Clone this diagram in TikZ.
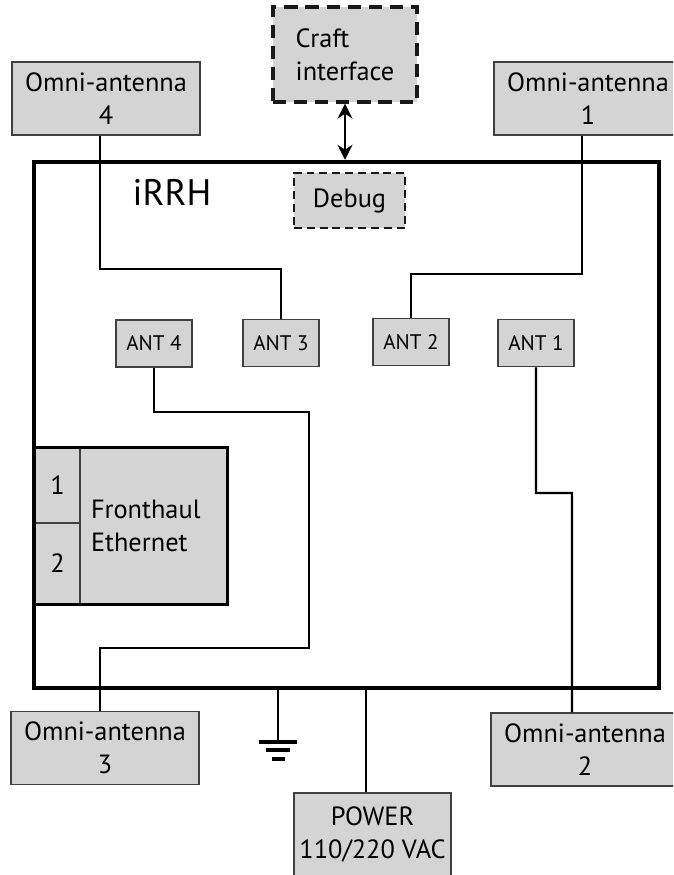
\documentclass[tikz,border=0pt]{standalone}
\usepackage{fontspec}
\setmainfont{PT Sans}
\usetikzlibrary{arrows.meta}
\definecolor{boxgray}{RGB}{212,212,212}

\begin{document}
\begin{tikzpicture}[x=0.02cm, y=-0.02cm,
    box/.style={draw=black!75, line width=0.9pt, fill=boxgray, align=center,
                inner sep=0pt, font=\fontsize{15}{19}\selectfont},
    omni/.style={box, minimum width=3.76cm, minimum height=1.46cm},
    antport/.style={box, minimum width=1.52cm, minimum height=0.94cm,
                    font=\fontsize{12}{14}\selectfont},
    dashbox/.style={box, draw=black!90, dash pattern=on 4.5pt off 2.8pt},
    wire/.style={line width=1.3pt},
    link/.style={{Stealth[length=3mm,width=3mm,inset=1mm]}-{Stealth[length=3mm,width=3mm,inset=1mm]}, line width=1.3pt}]
  \useasboundingbox (0,0) rectangle (673,875);
  \clip (0,0) rectangle (673,875);
  % unit enclosure
  \node[draw, line width=2.6pt, minimum width=12.5cm, minimum height=10.52cm] (irrh) at (346.5,425) {};
  \node[font=\fontsize{21}{24}\selectfont] (title) at (172,192) {iRRH};
  \node[dashbox, line width=1.4pt, minimum width=2.22cm, minimum height=1.1cm] (debug) at (349.5,200.5) {Debug};
  \node[dashbox, line width=1.9pt, dash pattern=on 7.5pt off 4.5pt, minimum width=2.88cm,
        minimum height=1.9cm, align=left] (craft) at (345,54.5) {Craft\\interface};
  % antennas
  \node[omni] (omni4) at (106,98.5)  {Omni-antenna\\4};
  \node[omni] (omni1) at (588,98.5)  {Omni-antenna\\1};
  \node[omni] (omni3) at (105,748)   {Omni-antenna\\3};
  \node[omni] (omni2) at (585,749.5) {Omni-antenna\\2};
  \node[antport] (ant4) at (154,343.5) {ANT 4};
  \node[antport] (ant3) at (281,343)   {ANT 3};
  \node[antport] (ant2) at (411,342)   {ANT 2};
  \node[antport] (ant1) at (536,343)   {ANT 1};
  % fronthaul ports
  \node[box, minimum width=0.9cm, minimum height=1.5cm, text depth=-0.25cm] (port1) at (57.5,485.5) {1};
  \node[box, minimum width=0.9cm, minimum height=1.62cm] (port2) at (57.5,563.5) {2};
  \node[box, text width=2.5cm, inner xsep=0.22cm, minimum height=3.12cm, align=left]
       (fronthaul) at (153.5,526) {Fronthaul\\Ethernet};
  \draw[line width=1.5pt] (port1.north west) rectangle (fronthaul.south east);
  % power
  \node[box, minimum width=3.14cm, minimum height=1.66cm] (power) at (372.5,834.5) {POWER\\110/220 VAC};
  \coordinate (pw) at ([xshift=-0.13cm]power.north);
  \draw[wire] (pw) -- (pw |- irrh.south);
  \coordinate (gnd) at (278,742);
  \draw[wire] (irrh.south -| gnd) -- (gnd);
  \draw[line width=1.8pt] ([xshift=-0.38cm]gnd) -- ([xshift=0.38cm]gnd);
  \draw[line width=1.8pt] ([xshift=-0.24cm,yshift=-0.16cm]gnd) -- ([xshift=0.24cm,yshift=-0.16cm]gnd);
  \draw[line width=1.8pt] ([xshift=-0.13cm,yshift=-0.34cm]gnd) -- ([xshift=0.13cm,yshift=-0.34cm]gnd);
  % cabling
  \draw[wire] ([xshift=-0.12cm]omni4.south) -- ++(0,133) -| (ant3.north);
  \draw[wire] ([xshift=-0.12cm]omni1.south) -- ++(0,138) -| (ant2.north);
  \draw[wire] (ant4.south) |- (309,412) -- (309,648) -| ([xshift=-0.1cm]omni3.north);
  \draw[wire] (ant1.south) |- (572,493) -- ([xshift=-0.26cm]omni2.north);
  \draw[link] (craft.south) -- (craft.south |- irrh.north);
\end{tikzpicture}
\end{document}
